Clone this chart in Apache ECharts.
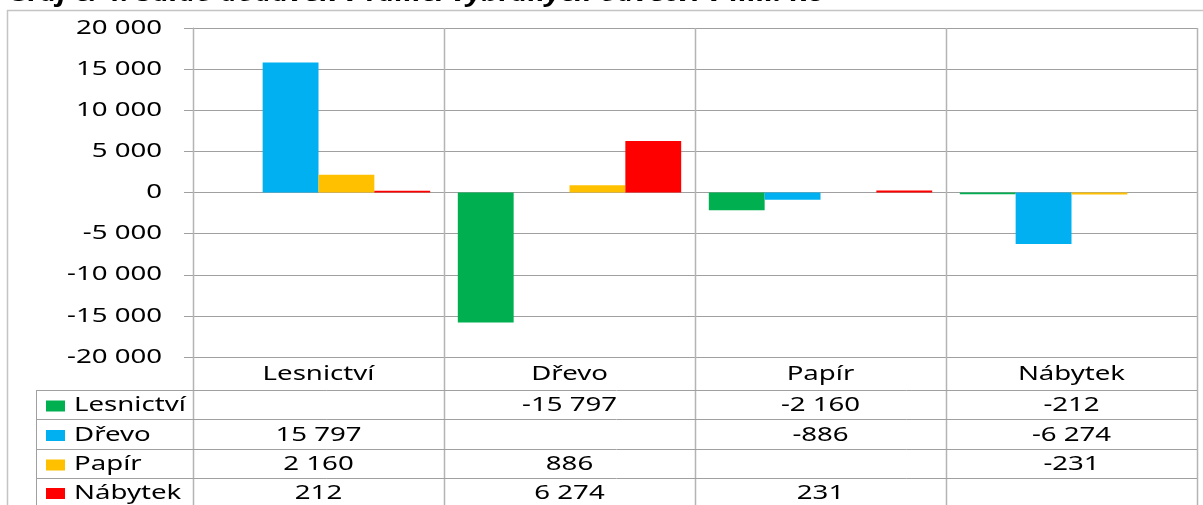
<!DOCTYPE html>
<html>
<head>
<meta charset="utf-8">
<title>Saldo dodávek</title>
<script src="https://cdn.jsdelivr.net/npm/echarts@6/dist/echarts.min.js"></script>
<style>
	html, body { margin: 0; padding: 0; background: #fff; }
	#main { width: 1203px; height: 505px; }
</style>
</head>
<body>
<div id="main"></div>
<script type="text/javascript">
	// odvětví (kategorie osy x)
	var categories = ['Lesnictví', 'Dřevo', 'Papír', 'Nábytek'];
	// saldo dodávek v mil. Kč, jedna řada za každé odvětví
	var lesnictvi = [null, -15797, -2160, -212];
	var drevo = [15797, null, -886, -6274];
	var papir = [2160, 886, null, -231];
	var nabytek = [212, 6274, 231, null];
	var seriesNames = ['Lesnictví', 'Dřevo', 'Papír', 'Nábytek'];
	var seriesColors = ['#00B050', '#00B0F0', '#FFC000', '#FF0000'];
	// popisky osy y
	var yTicks = [20000, 15000, 10000, 5000, 0, -5000, -10000, -15000, -20000];
	var titleText = 'Graf č. 4: Saldo dodávek v rámci vybraných odvětví v mil. Kč';

	var seriesData = [lesnictvi, drevo, papir, nabytek];

	//rozvržení (px)
	var plotLeft = 193, plotRight = 1197, plotTop = 28, plotBottom = 357;
	var rowLines = [390, 419, 449, 478];
	var tableBottom = 505, tableLeft = 36;
	var FONT = '20px "Noto Sans"';
	var SX = 1.38; // Excel text is stretched horizontally
	var gridColor = '#a0a0a0';
	var frameColor = '#b4b4b4';

	function fmt(v) {
		if (v === null || v === undefined) return '';
		var s = Math.abs(v).toString().replace(/\B(?=(\d{3})+(?!\d))/g, ' ');
		return (v < 0 ? '-' : '') + s;
	}

	var chart = echarts.init(document.getElementById('main'));

	var option = {
		backgroundColor: '#fff',
		animation: false,
		grid: {
			left: plotLeft,
			right: 1203 - plotRight,
			top: plotTop,
			bottom: 505 - plotBottom
		},
		xAxis: {
			type: 'category',
			data: categories,
			axisLine: { show: true, onZero: false, lineStyle: { color: gridColor, width: 1 } },
			axisTick: { show: false },
			axisLabel: { show: false },
			splitLine: { show: false }
		},
		yAxis: {
			type: 'value',
			min: yTicks[yTicks.length - 1],
			max: yTicks[0],
			interval: 5000,
			axisLine: { show: true, lineStyle: { color: gridColor } },
			axisTick: { show: true, length: 9, lineStyle: { color: gridColor } },
			axisLabel: { show: false },
			splitLine: { show: true, lineStyle: { color: gridColor, width: 1 } }
		},
		series: []
	};

	for (var i = 0; i < seriesNames.length; i++) {
		option.series.push({
			name: seriesNames[i],
			type: 'bar',
			data: seriesData[i],
			barGap: '0%',
			barCategoryGap: '11%',
			itemStyle: { color: seriesColors[i] }
		});
	}

	chart.setOption(option);

	//texty a tabulka dat
	var g = [];
	function line(x1, y1, x2, y2, color, w) {
		g.push({
			type: 'line', silent: true, z: 10,
			shape: { x1: x1, y1: y1, x2: x2, y2: y2 },
			style: { stroke: color, lineWidth: w || 1 }
		});
	}
	function text(str, x, y, align, font, extra) {
		var el = {
			type: 'text', silent: true, z: 20,
			x: x, y: y, scaleX: SX,
			style: { text: str, font: font || FONT, fill: '#000', align: align, verticalAlign: 'middle' }
		};
		if (extra) for (var k in extra) el[k] = extra[k];
		g.push(el);
	}

	// rámeček grafu
	line(7, 10.5, 1203, 10.5, '#c4c4c4', 1.5);
	line(7.5, 10, 7.5, 505, '#c4c4c4', 1.5);

	// titulek (oříznutý nahoře)
	text(titleText, 8, -5.5, 'left', 'italic bold 24px "Noto Sans"', { scaleX: 1.21 });

	// popisky osy y
	for (var t = 0; t < yTicks.length; t++) {
		var py = chart.convertToPixel({ yAxisIndex: 0 }, yTicks[t]);
		text(fmt(yTicks[t]), 162, py, 'right');
	}

	// svislé čáry mezi kategoriemi
	var band = (plotRight - plotLeft) / categories.length;
	for (var c = 0; c <= categories.length; c++) {
		var vx = Math.round(plotLeft + c * band) + 0.5;
		line(vx, plotTop, vx, tableBottom, frameColor, 1.5);
	}

	// vodorovné čáry tabulky
	for (var r = 0; r < rowLines.length; r++) {
		line(tableLeft, rowLines[r] + 0.5, plotRight, rowLines[r] + 0.5, gridColor, 1);
	}
	line(tableLeft + 0.5, rowLines[0], tableLeft + 0.5, tableBottom, gridColor, 1);

	// popisky kategorií
	for (var c2 = 0; c2 < categories.length; c2++) {
		var cx = chart.convertToPixel({ xAxisIndex: 0 }, categories[c2]);
		text(categories[c2], cx, (plotBottom + rowLines[0]) / 2 + 1, 'center');
	}

	// řádky tabulky
	var rowEdges = rowLines.concat([tableBottom + 1]);
	for (var s = 0; s < seriesNames.length; s++) {
		var cy = (rowEdges[s] + rowEdges[s + 1]) / 2 + 1;
		g.push({
			type: 'rect', silent: true, z: 20,
			shape: { x: 46, y: cy - 5, width: 19, height: 11 },
			style: { fill: seriesColors[s] }
		});
		text(seriesNames[s], 74, cy, 'left');
		for (var c3 = 0; c3 < categories.length; c3++) {
			var tx = chart.convertToPixel({ xAxisIndex: 0 }, categories[c3]);
			text(fmt(seriesData[s][c3]), tx, cy, 'center');
		}
	}

	chart.setOption({ graphic: { elements: g } });
</script>
</body>
</html>
